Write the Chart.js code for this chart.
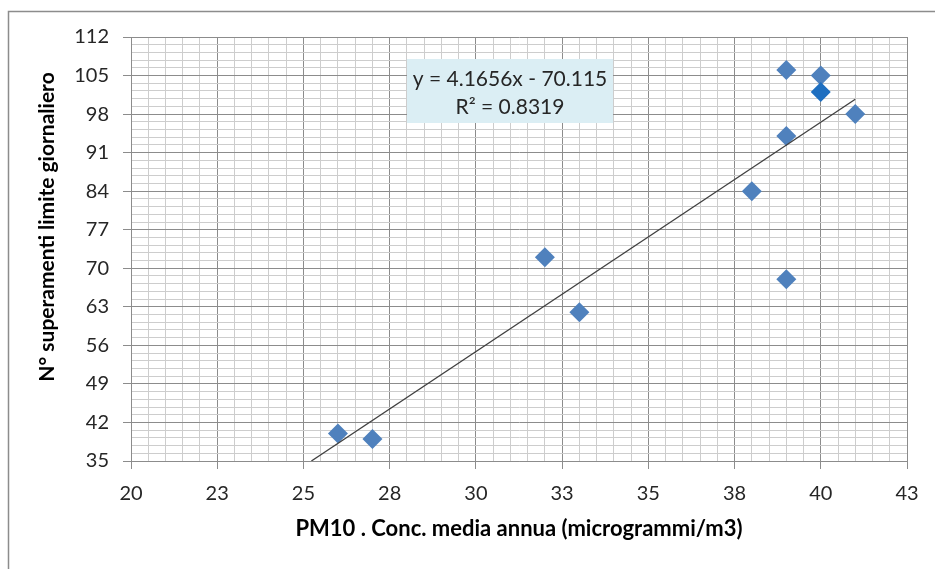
<!DOCTYPE html>
<html>
<head>
<meta charset="utf-8">
<script src="https://cdn.jsdelivr.net/npm/chart.js@4.4.0/dist/chart.umd.min.js"></script>
<style>
  html, body { margin: 0; padding: 0; background: #fff; }
  #wrap { position: relative; width: 935px; height: 569px; }
</style>
</head>
<body>
<div id="wrap"><canvas id="pmChart"></canvas></div>
<script>
// PM10 annual mean vs number of days over the daily limit
const pm10 = [26, 27, 32, 33, 38, 39, 39, 39, 40, 41];
const superamenti = [40, 39, 72, 62, 84, 94, 106, 68, 105, 98];
const pm10Dark = [40];
const superamentiDark = [102];

// trendline ends (y = 4.1656x - 70.115)
const trendX = [25.23, 41];
const trendY = [35, 100.7];

const xTickValues = [20, 22.5, 25, 27.5, 30, 32.5, 35, 37.5, 40, 42.5];
const xTickLabels = ['20', '23', '25', '28', '30', '33', '35', '38', '40', '43'];
const yTickValues = [35, 42, 49, 56, 63, 70, 77, 84, 91, 98, 105, 112];

const equation = ['y = 4.1656x - 70.115', 'R² = 0.8319'];
const yTitle = 'N° superamenti limite giornaliero';
const xTitle = 'PM10 . Conc. media annua (microgrammi/m3)';

const FONT = 'Lato, "Open Sans", sans-serif';
const MAJOR = '#8c8c8c';
const MINOR = '#cdcdcd';

const toPoints = (xs, ys) => xs.map((x, i) => ({ x: x, y: ys[i] }));

// major ticks plus 4 minor lines between each pair
function withMinor(majors) {
    const out = [];
    for (let i = 0; i < majors.length; i++) {
        out.push({ value: majors[i] });
        if (i < majors.length - 1) {
            const step = (majors[i + 1] - majors[i]) / 5;
            for (let k = 1; k < 5; k++) out.push({ value: majors[i] + step * k });
        }
    }
    return out;
}

const frame = {
    id: 'frame',
    beforeDraw(chart) {
        const c = chart.ctx;
        c.save();
        c.strokeStyle = '#8c8c8c';
        c.lineWidth = 1.5;
        c.beginPath();
        c.moveTo(8.5, 569);
        c.lineTo(8.5, 11.5);
        c.lineTo(935, 11.5);
        c.stroke();
        c.restore();
    }
};

const extras = {
    id: 'extras',
    afterDraw(chart) {
        const c = chart.ctx;
        c.save();
        // y axis title
        c.translate(47, 227);
        c.rotate(-Math.PI / 2);
        c.font = 'bold 21px ' + FONT;
        c.fillStyle = '#000';
        c.textAlign = 'center';
        c.textBaseline = 'middle';
        c.fillText(yTitle, 0, 0);
        c.restore();

        // equation box
        c.save();
        c.fillStyle = '#dbeef4';
        c.fillRect(407, 59, 206, 64);
        c.font = '21px ' + FONT;
        c.fillStyle = '#262626';
        c.textAlign = 'center';
        c.textBaseline = 'middle';
        c.fillText(equation[0], 510, 79);
        c.fillText(equation[1], 510, 107);
        c.restore();
    }
};

const ctx = document.getElementById('pmChart').getContext('2d');

new Chart(ctx, {
    type: 'scatter',
    data: {
        datasets: [
            {
                type: 'line',
                data: toPoints(trendX, trendY),
                borderColor: '#404040',
                borderWidth: 1.3,
                pointRadius: 0,
                fill: false,
                order: 0
            },
            {
                data: toPoints(pm10Dark, superamentiDark),
                pointStyle: 'rectRot',
                pointRadius: 10,
                backgroundColor: '#1f6fc0',
                borderColor: '#1f6fc0',
                borderWidth: 0,
                order: 1
            },
            {
                data: toPoints(pm10, superamenti),
                pointStyle: 'rectRot',
                pointRadius: 10,
                backgroundColor: '#4f81bd',
                borderColor: '#4f81bd',
                borderWidth: 0,
                order: 2
            }
        ]
    },
    options: {
        responsive: true,
        maintainAspectRatio: false,
        animation: false,
        layout: { padding: { left: 0, top: 37, right: 28, bottom: 24 } },
        plugins: {
            legend: { display: false },
            tooltip: { enabled: false }
        },
        scales: {
            x: {
                type: 'linear',
                min: 20,
                max: 42.5,
                afterBuildTicks: scale => { scale.ticks = withMinor(xTickValues); },
                afterFit: scale => { scale.height = 84; },
                ticks: {
                    autoSkip: false,
                    maxRotation: 0,
                    padding: 13,
                    color: '#262626',
                    font: { family: FONT, size: 20 },
                    callback: v => {
                        const i = xTickValues.indexOf(v);
                        return i >= 0 ? xTickLabels[i] : '';
                    }
                },
                grid: {
                    color: c => xTickValues.includes(c.tick.value) ? MAJOR : MINOR,
                    tickColor: c => xTickValues.includes(c.tick.value) ? MAJOR : 'transparent',
                    tickLength: 8
                },
                border: { color: MAJOR },
                title: {
                    display: true,
                    text: xTitle,
                    color: '#000',
                    font: { family: FONT, size: 22, weight: 'bold' },
                    padding: { top: 2, bottom: 3 }
                }
            },
            y: {
                min: 35,
                max: 112,
                afterBuildTicks: scale => { scale.ticks = withMinor(yTickValues); },
                afterFit: scale => { scale.width = 131; },
                ticks: {
                    autoSkip: false,
                    padding: 14,
                    color: '#262626',
                    font: { family: FONT, size: 20 },
                    callback: v => yTickValues.includes(v) ? String(v) : ''
                },
                grid: {
                    color: c => yTickValues.includes(c.tick.value) ? MAJOR : MINOR,
                    tickColor: c => yTickValues.includes(c.tick.value) ? MAJOR : 'transparent',
                    tickLength: 8
                },
                border: { color: MAJOR }
            }
        }
    },
    plugins: [frame, extras]
});
</script>
</body>
</html>
